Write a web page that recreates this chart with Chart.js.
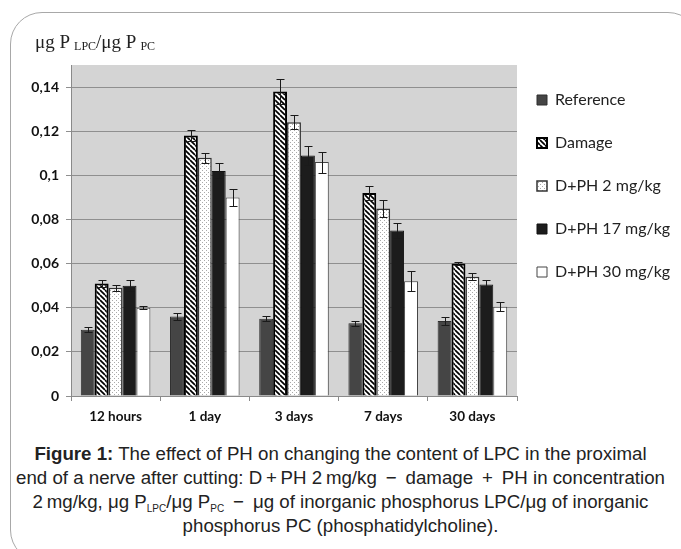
<!DOCTYPE html>
<html>
<head>
<meta charset="utf-8">
<script src="https://cdn.jsdelivr.net/npm/chart.js@4.4.1/dist/chart.umd.min.js"></script>
<style>
    body { margin: 0; background: #fff; }
    #wrap { position: relative; width: 681px; height: 549px; overflow: hidden; }
    #frame {
        position: absolute; left: 10px; top: 12px; width: 690px; height: 550px;
        border: 1px solid #a8a8a8; border-radius: 32px; box-sizing: border-box;
    }
    #chart { position: absolute; left: 0; top: 0; }
    #ytitle {
        position: absolute; left: 35px; top: 31px; color: #222;
        font-family: "Liberation Serif", serif; font-size: 19px; white-space: nowrap;
    }
    #ytitle sub { font-size: 12px; vertical-align: -2px; }
    #caption {
        position: absolute; left: 0; top: 442px; width: 681px; text-align: center;
        font-family: "Liberation Sans", Arial, sans-serif; font-size: 18.7px;
        line-height: 24px; color: #222;
    }
    #caption sub { font-size: 10px; vertical-align: -4px; line-height: 0; }
</style>
</head>
<body>
<div id="wrap">
    <div id="frame"></div>
    <canvas id="chart" width="681" height="430"></canvas>
    <div id="ytitle">μg P <sub>LPC</sub>/μg P <sub>PC</sub></div>
    <div id="caption">
        <b>Figure 1:</b> The effect of PH on changing the content of LPC in the proximal<br>
        end of a nerve after cutting: D&thinsp;+&thinsp;PH 2&thinsp;mg/kg &thinsp;−&thinsp; damage &thinsp;+&thinsp; PH in concentration<br>
        2&thinsp;mg/kg, μg P<sub>LPC</sub>/μg P<sub>PC</sub> &thinsp;−&thinsp; μg of inorganic phosphorus LPC/μg of inorganic<br>
        phosphorus PC (phosphatidylcholine).
    </div>
</div>
<script>
const labels = ["12 hours", "1 day", "3 days", "7 days", "30 days"];

const reference = [0.030, 0.036, 0.035, 0.033, 0.034];
const referenceErr = [0.0012, 0.0015, 0.0012, 0.0011, 0.0018];
const damage = [0.051, 0.118, 0.138, 0.092, 0.060];
const damageErr = [0.0015, 0.0025, 0.0055, 0.0032, 0.0008];
const ph2 = [0.049, 0.108, 0.124, 0.085, 0.054];
const ph2Err = [0.0012, 0.0022, 0.0032, 0.0038, 0.0016];
const ph17 = [0.050, 0.102, 0.109, 0.075, 0.0505];
const ph17Err = [0.0025, 0.0034, 0.0045, 0.0034, 0.0019];
const ph30 = [0.040, 0.090, 0.106, 0.052, 0.0405];
const ph30Err = [0.0007, 0.004, 0.0048, 0.0045, 0.0021];

// fill patterns for the hatched and dotted bars
function hatchPattern() {
    const c = document.createElement("canvas");
    c.width = 5;
    c.height = 5;
    const g = c.getContext("2d");
    g.fillStyle = "#fff";
    g.fillRect(0, 0, 5, 5);
    g.strokeStyle = "#000";
    g.lineWidth = 1.7;
    [-5, 0, 5].forEach((k) => {
        g.beginPath();
        g.moveTo(k, 0);
        g.lineTo(k + 5, 5);
        g.stroke();
    });
    return g.createPattern(c, "repeat");
}

function dotPattern() {
    const c = document.createElement("canvas");
    c.width = 4;
    c.height = 4;
    const g = c.getContext("2d");
    g.fillStyle = "#fff";
    g.fillRect(0, 0, 4, 4);
    g.fillStyle = "#a9a9a9";
    g.fillRect(0, 0, 1, 1);
    g.fillRect(2, 2, 1, 1);
    return g.createPattern(c, "repeat");
}

const plotBackground = {
    id: "plotBackground",
    beforeDraw(chart) {
        const { ctx, chartArea: a } = chart;
        ctx.save();
        ctx.fillStyle = "#d4d4d4";
        ctx.fillRect(a.left, a.top, a.right - a.left, a.bottom - a.top);
        ctx.restore();
    },
};

const errorBars = {
    id: "errorBars",
    afterDatasetsDraw(chart) {
        const ctx = chart.ctx;
        const y = chart.scales.y;
        ctx.save();
        ctx.strokeStyle = "#1a1a1a";
        ctx.lineWidth = 1;
        chart.data.datasets.forEach((ds, i) => {
            chart.getDatasetMeta(i).data.forEach((bar, j) => {
                const top = Math.round(y.getPixelForValue(ds.data[j] + ds.errors[j])) + 0.5;
                const bot = Math.round(y.getPixelForValue(ds.data[j] - ds.errors[j])) + 0.5;
                const x = Math.round(bar.x) + 0.5;
                ctx.beginPath();
                ctx.moveTo(x, top);
                ctx.lineTo(x, bot);
                ctx.moveTo(x - 4, top);
                ctx.lineTo(x + 4, top);
                ctx.moveTo(x - 4, bot);
                ctx.lineTo(x + 4, bot);
                ctx.stroke();
            });
        });
        ctx.restore();
    },
};

// pull the legend a little closer to the plot
const legendShift = {
    id: "legendShift",
    afterLayout(chart) {
        chart.legend.left -= 7;
        chart.legend.right -= 7;
    },
};

new Chart(document.getElementById("chart"), {
    type: "bar",
    data: {
        labels: labels,
        datasets: [
            { label: "Reference", data: reference, errors: referenceErr,
              backgroundColor: "#454545", borderColor: "#2e2e2e", borderWidth: 1 },
            { label: "Damage", data: damage, errors: damageErr,
              backgroundColor: hatchPattern(), borderColor: "#000", borderWidth: 2 },
            { label: "D+PH 2 mg/kg", data: ph2, errors: ph2Err,
              backgroundColor: dotPattern(), borderColor: "#333", borderWidth: 1.5 },
            { label: "D+PH 17 mg/kg", data: ph17, errors: ph17Err,
              backgroundColor: "#1c1c1c", borderColor: "#111", borderWidth: 1 },
            { label: "D+PH 30 mg/kg", data: ph30, errors: ph30Err,
              backgroundColor: "#fff", borderColor: "#444", borderWidth: 1 },
        ],
    },
    options: {
        responsive: false,
        animation: false,
        categoryPercentage: 0.78,
        barPercentage: 1.0,
        layout: { padding: { top: 65, left: 0, right: 0, bottom: 0 } },
        scales: {
            x: {
                afterFit: (s) => { s.height = 34; },
                grid: { drawOnChartArea: false, color: "#8a8a8a", tickLength: 5, offset: true },
                border: { color: "#8a8a8a" },
                ticks: {
                    color: "#111",
                    padding: 8,
                    font: { family: "Lato", size: 13.5, weight: "bold" },
                },
            },
            y: {
                min: 0,
                max: 0.15,
                afterFit: (s) => { s.width = 71; },
                grid: { color: "#8f8f8f", tickLength: 5 },
                border: { color: "#8a8a8a" },
                ticks: {
                    stepSize: 0.02,
                    includeBounds: false,
                    color: "#111",
                    padding: 7,
                    font: { family: "Lato", size: 14, weight: "bold" },
                    callback: (v) => (Math.round(v * 100) / 100).toString().replace(".", ","),
                },
            },
        },
        plugins: {
            legend: {
                position: "right",
                align: "start",
                maxWidth: 164,
                labels: {
                    boxWidth: 10,
                    boxHeight: 10,
                    padding: 27,
                    color: "#222",
                    font: { family: "Lato", size: 16 },
                },
            },
            tooltip: { enabled: false },
        },
    },
    plugins: [plotBackground, errorBars, legendShift],
});
</script>
</body>
</html>
